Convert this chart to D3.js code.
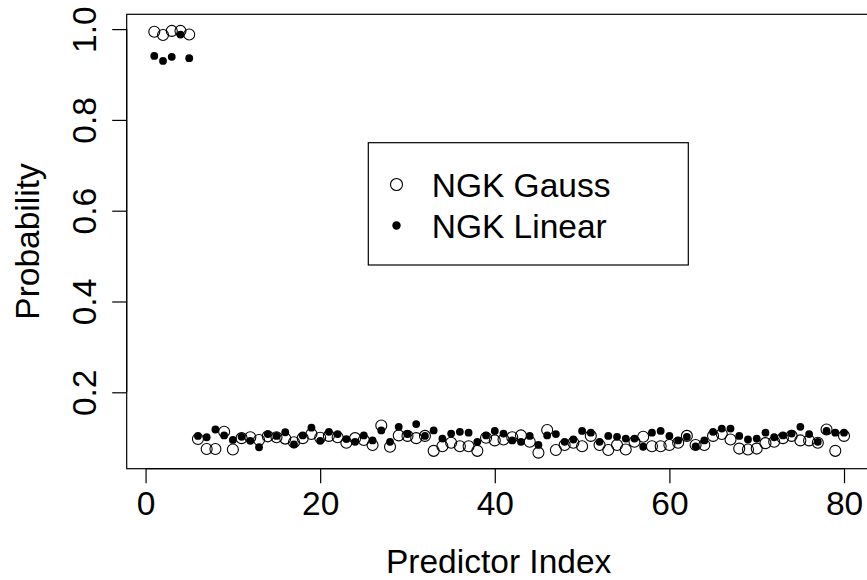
<!DOCTYPE html>
<html>
<head>
<meta charset="utf-8">
<script src="https://cdn.jsdelivr.net/npm/d3@7"></script>
<style>
  html, body { margin: 0; padding: 0; background: #fff; }
  svg { display: block; }
  text { font-family: "Liberation Sans", Arial, Helvetica, sans-serif; fill: #000; }
</style>
</head>
<body>
<svg id="chart" width="867" height="580"></svg>
<script>
const predictorIndex = d3.range(1, 81);
const ngkGauss = [
  0.994, 0.987, 0.996, 0.996, 0.988,
  0.097, 0.075, 0.075, 0.113, 0.074,
  0.099, 0.101, 0.095, 0.103, 0.101,
  0.098, 0.090, 0.099, 0.108, 0.100,
  0.104, 0.101, 0.089, 0.099, 0.095,
  0.084, 0.127, 0.080, 0.105, 0.104,
  0.099, 0.104, 0.071, 0.081, 0.089,
  0.081, 0.081, 0.071, 0.100, 0.094,
  0.096, 0.101, 0.105, 0.091, 0.067,
  0.117, 0.073, 0.084, 0.089, 0.081,
  0.104, 0.084, 0.073, 0.084, 0.074,
  0.091, 0.102, 0.081, 0.081, 0.084,
  0.089, 0.104, 0.084, 0.084, 0.104,
  0.108, 0.096, 0.076, 0.074, 0.076,
  0.088, 0.091, 0.099, 0.104, 0.094,
  0.094, 0.089, 0.118, 0.071, 0.104
];
const ngkLinear = [
  0.941, 0.930, 0.939, 0.988, 0.936,
  0.104, 0.101, 0.118, 0.105, 0.095,
  0.102, 0.093, 0.079, 0.108, 0.104,
  0.112, 0.085, 0.105, 0.122, 0.093,
  0.113, 0.108, 0.097, 0.091, 0.105,
  0.094, 0.116, 0.091, 0.124, 0.108,
  0.130, 0.104, 0.116, 0.098, 0.109,
  0.113, 0.111, 0.091, 0.105, 0.115,
  0.109, 0.094, 0.091, 0.104, 0.084,
  0.105, 0.108, 0.091, 0.096, 0.115,
  0.111, 0.091, 0.104, 0.102, 0.098,
  0.098, 0.080, 0.111, 0.115, 0.104,
  0.094, 0.102, 0.081, 0.094, 0.113,
  0.120, 0.120, 0.104, 0.096, 0.098,
  0.111, 0.101, 0.105, 0.109, 0.124,
  0.108, 0.091, 0.115, 0.111, 0.111
];
const xTicks = [0, 20, 40, 60, 80];
const yTicks = [0.2, 0.4, 0.6, 0.8, 1.0];
const seriesNames = ["NGK Gauss", "NGK Linear"];
const xTitle = "Predictor Index";
const yTitle = "Probability";

(function draw() {
const svg = d3.select("#chart");
const pL = 126.7, pR = 871.6, pT = 14.3, pB = 468.7;
const x = d3.scaleLinear().domain([-2.16, 83.16]).range([pL, pR]);
const y = d3.scaleLinear().domain([0.0317, 1.0326]).range([pB, pT]);
const fs = 33.5;
const ff = '"Liberation Sans", Arial, sans-serif';

// box
svg.append("rect")
  .attr("x", pL).attr("y", pT)
  .attr("width", pR - pL).attr("height", pB - pT)
  .attr("fill", "none").attr("stroke", "#000").attr("stroke-width", 1.2);

// x axis
const xAxis = d3.axisBottom(x).tickValues(xTicks).tickSize(14.5).tickPadding(8)
  .tickFormat(d3.format("d"));
const gx = svg.append("g").attr("transform", `translate(0,${pB})`).call(xAxis);
gx.select(".domain").attr("d", `M${x(0)},0H${x(80)}`).attr("stroke-width", 1.2);
gx.selectAll(".tick line").attr("stroke-width", 1.2);
gx.selectAll(".tick text").style("font-size", fs + "px")
  .style("font-family", ff).attr("fill", "#000");

// y axis
const yAxis = d3.axisLeft(y).tickValues(yTicks).tickSize(14.5).tickPadding(0)
  .tickFormat(d3.format(".1f"));
const gy = svg.append("g").attr("transform", `translate(${pL},0)`).call(yAxis);
gy.select(".domain").attr("d", `M0,${y(0.2)}V${y(1.0)}`).attr("stroke-width", 1.2);
gy.selectAll(".tick line").attr("stroke-width", 1.2);
gy.selectAll(".tick text")
  .attr("x", 0).attr("dy", null).attr("y", 0)
  .attr("text-anchor", "middle")
  .attr("transform", "translate(-30.5,0) rotate(-90)")
  .style("font-size", fs + "px")
  .style("font-family", ff).attr("fill", "#000");

// titles
svg.append("text").attr("x", (pL + pR) / 2 - 0.5).attr("y", 573)
  .attr("text-anchor", "middle").style("font-size", fs + "px").text(xTitle);
svg.append("text")
  .attr("transform", `translate(39,${(pT + pB) / 2}) rotate(-90)`)
  .attr("text-anchor", "middle").style("font-size", fs + "px").text(yTitle);

// points
const rOpen = 5.5, rFill = 3.9;
svg.append("g").selectAll("circle")
  .data(predictorIndex.map((d, i) => [d, ngkGauss[i]]))
  .join("circle")
  .attr("cx", d => x(d[0])).attr("cy", d => y(d[1])).attr("r", rOpen)
  .attr("fill", "none").attr("stroke", "#000").attr("stroke-width", 1.1);
svg.append("g").selectAll("circle")
  .data(predictorIndex.map((d, i) => [d, ngkLinear[i]]))
  .join("circle")
  .attr("cx", d => x(d[0])).attr("cy", d => y(d[1])).attr("r", rFill)
  .attr("fill", "#000");

// legend
const lg = svg.append("g");
lg.append("rect").attr("x", 368.3).attr("y", 142.7).attr("width", 320).attr("height", 122.3)
  .attr("fill", "#fff").attr("stroke", "#000").attr("stroke-width", 1.2);
const legY = [184.5, 225.5];
lg.append("circle").attr("cx", 396.5).attr("cy", legY[0]).attr("r", rOpen + 0.5)
  .attr("fill", "none").attr("stroke", "#000").attr("stroke-width", 1.1);
lg.append("circle").attr("cx", 396.5).attr("cy", legY[1]).attr("r", rFill + 0.3).attr("fill", "#000");
seriesNames.forEach((n, i) => {
  lg.append("text").attr("x", 431.7).attr("y", legY[i]).attr("dy", "0.36em")
    .style("font-size", fs + "px").text(n);
});
})();
</script>
</body>
</html>
